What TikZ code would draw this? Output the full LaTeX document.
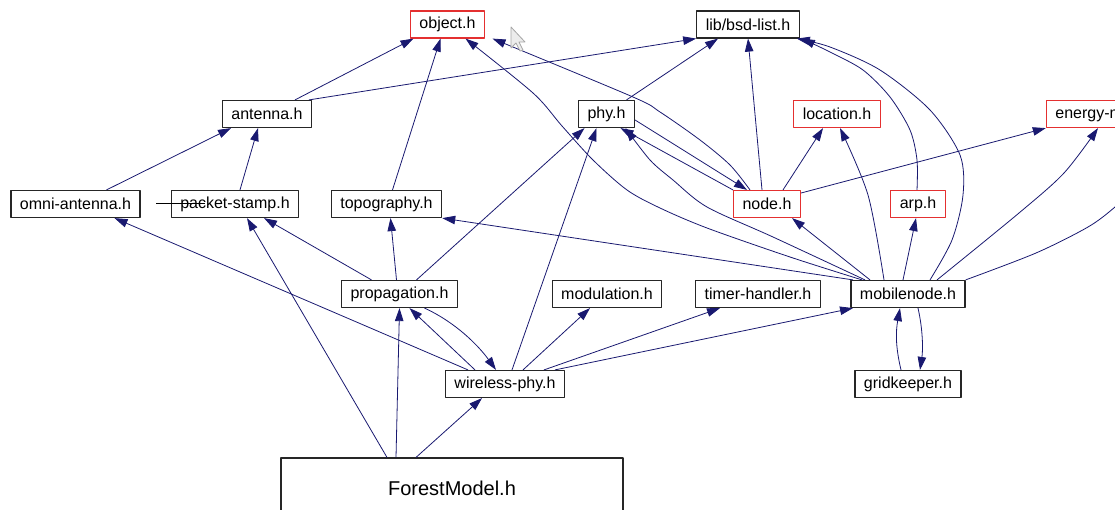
\documentclass[tikz,border=0pt]{standalone}
\usepackage{fontspec}
\setmainfont{Liberation Sans}
\usetikzlibrary{arrows.meta}
\definecolor{navy}{RGB}{25,25,112}
\definecolor{hdrred}{RGB}{228,48,48}
\begin{document}
\begin{tikzpicture}[x=1pt,y=-1pt,line join=round,>={Triangle[length=13pt,width=8.5pt]},
    hdr/.style={draw=black!85,line width=1.2pt,inner xsep=9pt,minimum height=27pt,
        font=\fontsize{16}{18}\selectfont},
    redhdr/.style={hdr,draw=hdrred},
    dep/.style={draw=navy,fill=none,line width=0.8pt,->}]
    \useasboundingbox (0,0) rectangle (1115,509);
    \clip (0,0) rectangle (1115,509);
    % headers
    \node[redhdr] (object) at (447.5,24.5) {object.h};
    \node[hdr] (bsdlist) at (748,24.5) {lib/bsd-list.h};
    \node[hdr] (antenna) at (267,114) {antenna.h};
    \node[hdr] (phy) at (606.5,114) {phy.h};
    \node[redhdr] (location) at (837,114) {location.h};
    \node[redhdr] (energy) at (1111,114) {energy-model.h};
    \node[hdr] (omni) at (75.5,204) {omni-antenna.h};
    \node[hdr] (packet) at (235,204) {packet-stamp.h};
    \node[hdr] (topo) at (386.5,204) {topography.h};
    \node[redhdr] (nodeh) at (767,204) {node.h};
    \node[redhdr] (arp) at (918,204) {arp.h};
    \node[hdr] (propagation) at (399.5,294) {propagation.h};
    \node[hdr] (modulation) at (607,294) {modulation.h};
    \node[hdr] (timer) at (758,294) {timer-handler.h};
    \node[hdr] (mobilenode) at (908,294) {mobilenode.h};
    \node[hdr] (wireless) at (505,384) {wireless-phy.h};
    \node[hdr] (gridkeeper) at (908,384) {gridkeeper.h};
    \node[hdr,minimum width=342pt,minimum height=60pt,font=\fontsize{20}{24}\selectfont] (forest) at (452,488) {ForestModel.h};
    \coordinate (offright) at (1150,175);
    \coordinate (strayA) at (156,203);
    \coordinate (strayB) at (205,203);
    % includes
    \draw[dep] ([xshift=28pt]antenna.north) -- ([xshift=-34pt]object.south);
    \draw[dep] ([xshift=42pt]antenna.north) -- (bsdlist.south west);
    \draw[dep] ([xshift=31pt]omni.north) -- ([xshift=-36pt]antenna.south);
    \draw[dep] ([xshift=5pt]packet.north) -- ([xshift=-9pt]antenna.south);
    \draw[dep] ([xshift=6pt]topo.north) -- ([xshift=-7pt]object.south);
    \draw[dep] plot[smooth] coordinates {([xshift=-46pt]mobilenode.north) (790,257) (707,228) (660,208) (627,190) (593,160) (562,126) (533,93) ([xshift=18pt]object.south)};
    \draw[dep] plot[smooth] coordinates {([xshift=-17pt]nodeh.north) (730,165) (700,140) (660,112) (633,97) ([xshift=45pt]object.south)};
    \draw[dep] ([xshift=-5pt]nodeh.north) -- (bsdlist.south);
    \draw[dep] (nodeh.north west) -- ([xshift=14pt]phy.south);
    \draw[dep] ([yshift=-6pt]phy.east) -- ([xshift=-20pt]nodeh.north);
    \draw[dep] plot[smooth] coordinates {([xshift=-43pt]mobilenode.north) (773,237) (707,207) (673,180) (650,160) ([xshift=19pt]phy.south)};
    \draw[dep] ([xshift=17pt]propagation.north) -- ([xshift=-22pt]phy.south);
    \draw[dep] ([xshift=7pt]wireless.north) -- ([xshift=-10pt]phy.south);
    \draw[dep] ([xshift=20pt]phy.north) -- ([xshift=-30pt]bsdlist.south);
    \draw[dep] ([xshift=16pt]nodeh.north) -- ([xshift=-14pt]location.south);
    \draw[dep] plot[smooth] coordinates {([xshift=-24pt]mobilenode.north) (868,195) ([xshift=3pt]location.south)};
    \draw[dep] ([yshift=11pt]nodeh.east) -- (energy.south west);
    \draw[dep] plot[smooth] coordinates {([xshift=29pt]mobilenode.north) (1019,213) (1064,173) ([xshift=-13pt]energy.south)};
    \draw[dep] plot[smooth] coordinates {(mobilenode.north east) (1036,253) (1088,227) (1115,207) (offright)};
    \draw[dep] plot[smooth] coordinates {([xshift=22pt]mobilenode.north) (952,240) (963,195) (960,155) (930,110) (880,70) (830,47) ([xshift=-3pt]bsdlist.south east)};
    \draw[dep] plot[smooth] coordinates {([xshift=-1pt]arp.north) (917,160) (910,130) (890,97) (863,70) (830,52) ([xshift=2pt]bsdlist.south east)};
    \draw[dep] ([xshift=-5pt]mobilenode.north) -- ([xshift=-2pt]arp.south);
    \draw[dep] ([xshift=-38pt]mobilenode.north) -- ([xshift=25pt]nodeh.south);
    \draw[dep] ([xshift=-55pt]mobilenode.north) -- (topo.south east);
    \draw[dep] ([xshift=-3pt]propagation.north) -- ([xshift=4pt]topo.south);
    \draw[dep] ([xshift=-28pt]propagation.north) -- ([xshift=29pt]packet.south);
    \draw[dep] ([xshift=-65pt]forest.north) -- ([xshift=12pt]packet.south);
    \draw[dep] ([xshift=-56pt]forest.north) -- (propagation.south);
    \draw[dep] ([xshift=-36pt]forest.north) -- ([xshift=-23pt]wireless.south);
    \draw[dep] ([xshift=-30pt]wireless.north) -- ([xshift=10pt]propagation.south);
    \draw[dep] ([xshift=25pt]propagation.south) .. controls (455,322) and (478,345) .. ([xshift=-9pt]wireless.north);
    \draw[dep] ([xshift=-37pt]wireless.north) -- ([xshift=39pt]omni.south);
    \draw[dep] ([xshift=18pt]wireless.north) -- ([xshift=-17pt]modulation.south);
    \draw[dep] ([xshift=39pt]wireless.north) -- ([xshift=-38pt]timer.south);
    \draw[dep] ([xshift=50pt]wireless.north) -- ([xshift=-55pt]mobilenode.south);
    \draw[dep] ([xshift=-7pt]gridkeeper.north) .. controls (895,345) and (896,330) .. ([xshift=-8pt]mobilenode.south);
    \draw[dep] ([xshift=10pt]mobilenode.south) .. controls (923,330) and (923,350) .. ([xshift=12pt]gridkeeper.north);
    \draw[line width=0.8pt] (strayA) -- (strayB);
    % mouse pointer
    \draw[fill=gray!15,draw=gray!70,line width=0.8pt]
        (511,27) -- (511,48) -- (516,43) -- (520,51) -- (523,50) -- (519,42) -- (525,42) -- cycle;
\end{tikzpicture}
\end{document}
